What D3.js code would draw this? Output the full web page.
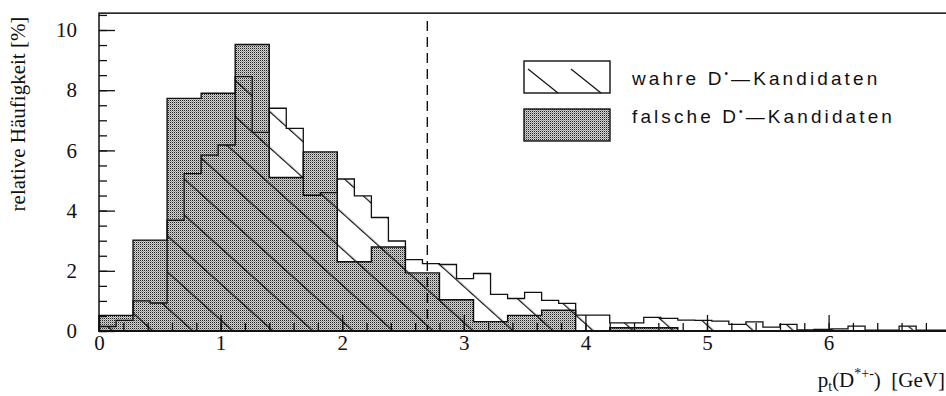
<!DOCTYPE html>
<html>
<head>
<meta charset="utf-8">
<title>p_t(D*) - wahre und falsche Kandidaten</title>
<style>
body { margin: 0; background: #fff; }
svg text { fill: #111; }
</style>
</head>
<body>
<div id="container"></div>
<script src="https://d3js.org/d3.v7.min.js"></script>
<script>
// bin widths [GeV]
const wahreBinWidth = 0.14;
const falscheBinWidth = 0.28;

// relative frequency [%], true D* candidates, 50 bins 0..7 GeV
const wahre = [0.15, 0.35, 1.0, 0.93, 3.68, 5.23, 5.84, 6.18, 8.45, 6.6,
               7.4, 6.73, 4.51, 4.6, 5.05, 4.49, 3.77, 2.99, 2.37, 2.24,
               2.21, 1.74, 1.91, 1.22, 1.08, 1.28, 1.02, 0.92, 0.53, 0.53,
               0.27, 0.27, 0.45, 0.42, 0.36, 0.35, 0.33, 0.22, 0.3, 0.13,
               0.22, 0.04, 0.05, 0.07, 0.16, 0.03, 0.03, 0.16, 0.03, 0.03];

// relative frequency [%], false D* candidates, 25 bins 0..7 GeV
const falsche = [0.52, 3.02, 7.73, 7.9, 9.52, 5.1, 5.95, 2.3, 2.79, 1.93,
                 1.04, 0.31, 0.52, 0.69, 0, 0.11, 0.11, 0, 0, 0,
                 0, 0, 0, 0, 0];

const xTicks = [0, 1, 2, 3, 4, 5, 6, 7];
const yTicks = [0, 2, 4, 6, 8, 10];
const cutValue = 2.7;   // dashed line

const legendLabels = ["wahre", "falsche"];

// chart dimensions
const width = 946;
const height = 396;
const yMax = 10.56;

const x = d3.scaleLinear().domain([0, 7]).range([99, 950.2]);
const y = d3.scaleLinear().domain([0, 10]).range([331, 30]);

const svg = d3.create("svg")
    .attr("width", width)
    .attr("height", height)
    .style("font-family", "'Liberation Serif', 'Times New Roman', serif");

const defs = svg.append("defs");

// stipple pattern for the false candidates
const dots = defs.append("pattern")
    .attr("id", "dots")
    .attr("patternUnits", "userSpaceOnUse")
    .attr("width", 2).attr("height", 2);
dots.append("rect").attr("width", 2).attr("height", 2).attr("fill", "#d2d2d2");
dots.append("rect").attr("width", 1).attr("height", 1).attr("fill", "#222");
dots.append("rect").attr("x", 1).attr("y", 1).attr("width", 1).attr("height", 1).attr("fill", "#9a9a9a");

// diagonal hatch for the true candidates
const hatchSpacing = 26.8;
const hatch = defs.append("pattern")
    .attr("id", "hatch")
    .attr("patternUnits", "userSpaceOnUse")
    .attr("width", hatchSpacing).attr("height", hatchSpacing)
    .attr("patternTransform", `translate(${151.7 - 331 * 1.11},0) rotate(-48)`);
hatch.append("line")
    .attr("x1", 0.6).attr("y1", 0).attr("x2", 0.6).attr("y2", hatchSpacing)
    .attr("stroke", "#111").attr("stroke-width", 1.3);

// step outline of a histogram
function histPoints(values, w) {
  const pts = [[0, 0]];
  values.forEach((v, i) => {
    pts.push([i * w, v]);
    pts.push([(i + 1) * w, v]);
  });
  pts.push([values.length * w, 0]);
  return pts;
}
const histLine = d3.line().x(d => x(d[0])).y(d => y(d[1]));

// false candidates (shaded)
svg.append("path")
    .attr("d", histLine(histPoints(falsche, falscheBinWidth)) + "Z")
    .attr("fill", "url(#dots)")
    .attr("stroke", "#111")
    .attr("stroke-width", 1.4);

// true candidates (hatched, drawn over)
svg.append("path")
    .attr("d", histLine(histPoints(wahre, wahreBinWidth)) + "Z")
    .attr("fill", "url(#hatch)")
    .attr("stroke", "#111")
    .attr("stroke-width", 1.3);

// dashed cut line
svg.append("line")
    .attr("x1", x(cutValue)).attr("x2", x(cutValue))
    .attr("y1", 21).attr("y2", y(0))
    .attr("stroke", "#111")
    .attr("stroke-width", 1.4)
    .attr("stroke-dasharray", "10,6");

// frame
svg.append("rect")
    .attr("x", x(0)).attr("y", y(yMax))
    .attr("width", x(7) - x(0)).attr("height", y(0) - y(yMax))
    .attr("fill", "none")
    .attr("stroke", "#111")
    .attr("stroke-width", 1.5);

// x axis: major + minor ticks pointing inward
svg.append("g")
    .attr("transform", `translate(0,${y(0)})`)
    .call(d3.axisBottom(x).tickValues(d3.range(0, 7.01, 0.2)).tickSize(-8).tickFormat(""))
    .call(g => g.select(".domain").remove());
svg.append("g")
    .attr("transform", `translate(0,${y(0)})`)
    .call(d3.axisBottom(x).tickValues(xTicks).tickSize(-16).tickPadding(4).tickFormat(d3.format("d")))
    .call(g => g.select(".domain").remove())
    .call(g => g.selectAll("text").attr("font-size", 21).attr("font-family", "'Liberation Serif', serif"));

// y axis
svg.append("g")
    .attr("transform", `translate(${x(0)},0)`)
    .call(d3.axisLeft(y).tickValues(d3.range(0, 10.51, 0.5)).tickSize(-8).tickFormat(""))
    .call(g => g.select(".domain").remove());
svg.append("g")
    .attr("transform", `translate(${x(0)},0)`)
    .call(d3.axisLeft(y).tickValues(yTicks).tickSize(-16).tickPadding(22).tickFormat(d3.format("d")))
    .call(g => g.select(".domain").remove())
    .call(g => g.selectAll("text").attr("font-size", 21).attr("font-family", "'Liberation Serif', serif"));

svg.selectAll(".tick line").attr("stroke", "#111").attr("stroke-width", 1.3);

// axis titles
svg.append("text")
    .attr("transform", "translate(25,114) rotate(-90)")
    .attr("text-anchor", "middle")
    .attr("font-size", 21)
    .text("relative Häufigkeit [%]");

const xt = svg.append("text")
    .attr("x", 945).attr("y", 387)
    .attr("text-anchor", "end")
    .attr("font-size", 21);
xt.append("tspan").text("p");
xt.append("tspan").attr("font-size", 14).attr("dy", 4).text("t");
xt.append("tspan").attr("dy", -4).text("(D");
xt.append("tspan").attr("font-size", 14).attr("dy", -9).text("*+-");
xt.append("tspan").attr("dy", 9).text(")\u00a0\u00a0[GeV]");

// legend
const legend = svg.append("g")
    .style("font-family", "'Liberation Sans', Arial, sans-serif");
const boxX = 524, boxW = 86, boxH = 32;
const rowY = [61, 109];

legendLabels.forEach((lab, i) => {
  const g = legend.append("g").attr("transform", `translate(${boxX},${rowY[i]})`);
  if (i === 0) {
    g.append("rect").attr("width", boxW).attr("height", boxH)
        .attr("fill", "#fff").attr("stroke", "#111").attr("stroke-width", 1.4);
    [0, 1].forEach(k => {
      g.append("line")
          .attr("x1", 4 + k * 43).attr("y1", 8)
          .attr("x2", 34 + k * 43).attr("y2", boxH)
          .attr("stroke", "#111").attr("stroke-width", 1.3);
    });
  } else {
    g.append("rect").attr("width", boxW).attr("height", boxH)
        .attr("fill", "url(#dots)").attr("stroke", "#111").attr("stroke-width", 1.4);
  }
  const t = g.append("text")
      .attr("x", 108).attr("y", i === 0 ? 24 : 14)
      .attr("font-size", 19)
      .attr("letter-spacing", 3.1);
  t.append("tspan").text(lab + " D");
  t.append("tspan").attr("font-size", 10).attr("dy", -8).text("\u2022");
  t.append("tspan").attr("dy", 8).text("\u2014Kandidaten");
});

container.append(svg.node());
</script>
</body>
</html>
